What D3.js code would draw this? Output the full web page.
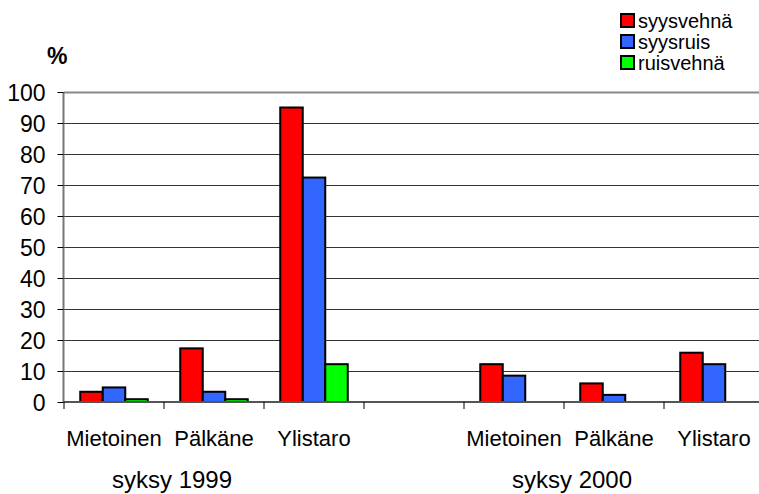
<!DOCTYPE html>
<html>
<head>
<meta charset="utf-8">
<script src="https://cdn.jsdelivr.net/npm/d3@7"></script>
<style>
  body { margin: 0; background: #fff; }
  text { font-family: "Liberation Sans", Arial, sans-serif; fill: #000; }
</style>
</head>
<body>
<div id="kaavio"></div>
<script>
const kunnat = ["Mietoinen", "Pälkäne", "Ylistaro"];
const syksyt = ["syksy 1999", "syksy 2000"];
const lajit = ["syysvehnä", "syysruis", "ruisvehnä"];
// arvot: 1999 kunnat, sitten 2000 kunnat
const syysvehna = [3.3, 17.3, 95.0, 12.2, 6.0, 15.9];
const syysruis = [4.7, 3.3, 72.4, 8.5, 2.3, 12.2];
const ruisvehna = [0.9, 0.9, 12.2, null, null, null];
const yTicks = [0, 10, 20, 30, 40, 50, 60, 70, 80, 90, 100];
const varit = ["#ff0000", "#3366ff", "#00ff00"];

const width = 759, height = 494;
const svg = d3.select("#kaavio").append("svg")
  .attr("width", width).attr("height", height);

// 7 paikkaa: 3 kuntaa, tyhjä väli, 3 kuntaa
const paikat = [];
syksyt.forEach((s, si) => {
  kunnat.forEach((k, ki) => paikat.push({ id: si + "-" + ki, kunta: k, i: si * 3 + ki, syksy: si }));
  if (si === 0) paikat.push({ id: "vali", kunta: "", i: -1, syksy: -1 });
});

const x = d3.scaleBand().domain(paikat.map(d => d.id)).range([64, 764]);
const xi = d3.scaleBand().domain(lajit).range([0, x.bandwidth()]).paddingOuter(0.722);
const y = d3.scaleLinear().domain([0, 100]).range([402, 92]);
const sarjat = [syysvehna, syysruis, ruisvehna];

// ruudukko
svg.append("g").selectAll("line").data(yTicks.filter(t => t > 0)).join("line")
  .attr("x1", 64).attr("x2", width)
  .attr("y1", d => Math.round(y(d)) + 0.5).attr("y2", d => Math.round(y(d)) + 0.5)
  .attr("stroke", d => d === 100 ? "#888" : "#333")
  .attr("stroke-width", d => d === 100 ? 2 : 1);

// pylväät
const ryhmat = svg.append("g").selectAll("g").data(paikat.filter(p => p.i >= 0)).join("g")
  .attr("transform", d => `translate(${x(d.id)},0)`);
ryhmat.selectAll("rect")
  .data(d => lajit.map((l, li) => ({ laji: l, arvo: sarjat[li][d.i], li })).filter(v => v.arvo != null))
  .join("rect")
  .attr("x", d => xi(d.laji))
  .attr("width", xi.bandwidth())
  .attr("y", d => y(d.arvo))
  .attr("height", d => y(0) - y(d.arvo))
  .attr("fill", d => varit[d.li])
  .attr("stroke", "#000")
  .attr("stroke-width", 2);

// y-akseli
const yAxis = d3.axisLeft(y).tickValues(yTicks).tickSize(6).tickPadding(12);
const ga = svg.append("g").attr("transform", "translate(63.5,0)").call(yAxis);
ga.select(".domain").attr("stroke", "#777").attr("stroke-width", 2).attr("d", `M0,${y(100)}V${y(0)}`);
ga.selectAll(".tick text").style("font-size", "23px").attr("dy", "0.36em");
ga.selectAll(".tick line").attr("stroke", "#000");

// x-akseli
svg.append("line").attr("x1", 63).attr("x2", width)
  .attr("y1", y(0)).attr("y2", y(0)).attr("stroke", "#555").attr("stroke-width", 2);
svg.append("g").selectAll("line").data(paikat.slice(0, 7)).join("line")
  .attr("x1", d => x(d.id)).attr("x2", d => x(d.id))
  .attr("y1", y(0)).attr("y2", y(0) + 7).attr("stroke", "#000");

svg.append("g").selectAll("text").data(paikat.filter(p => p.i >= 0)).join("text")
  .attr("x", d => x(d.id) + x.bandwidth() / 2)
  .attr("y", 446)
  .attr("text-anchor", "middle")
  .style("font-size", "22px")
  .text(d => d.kunta);

svg.append("g").selectAll("text").data(syksyt).join("text")
  .attr("x", (d, i) => x(i + "-1") + x.bandwidth() / 2 - 42)
  .attr("y", 488)
  .attr("text-anchor", "middle")
  .style("font-size", "24px")
  .text(d => d);

svg.append("text").attr("x", 47).attr("y", 64)
  .style("font-size", "23px").style("font-weight", "bold").text("%");

// selite
const selite = svg.append("g").selectAll("g").data(lajit).join("g")
  .attr("transform", (d, i) => `translate(621,${14 + i * 21})`);
selite.append("rect").attr("width", 13).attr("height", 13)
  .attr("fill", (d, i) => varit[i]).attr("stroke", "#000").attr("stroke-width", 2);
selite.append("text").attr("x", 17).attr("y", 14)
  .style("font-size", "20px").text(d => d);
</script>
</body>
</html>
